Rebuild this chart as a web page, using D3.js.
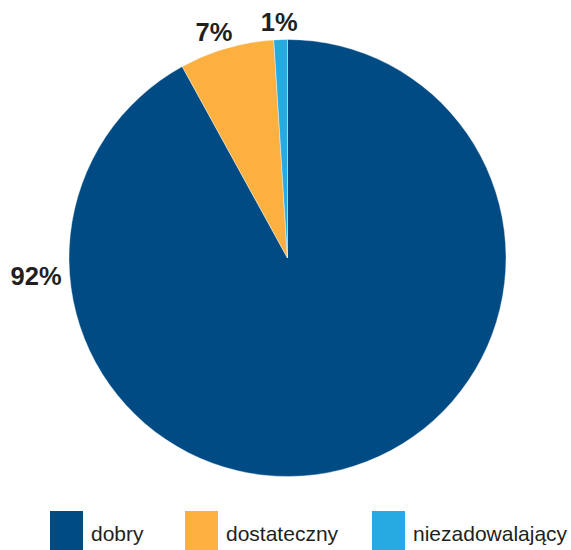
<!DOCTYPE html>
<html>
<head>
<meta charset="utf-8">
<script src="https://cdn.jsdelivr.net/npm/d3@7"></script>
<style>
  html, body { margin: 0; padding: 0; background: #fff; }
  svg { display: block; }
</style>
</head>
<body>
<svg id="chart" width="571" height="550"></svg>
<script>
// Ratings and their shares (percent)
const categories = ["dobry", "dostateczny", "niezadowalający"];
const shares = [92, 7, 1];
const colors = ["#004b84", "#fbb040", "#27a9e1"];

const width = 571, height = 550;
const cx = 287.5, cy = 258, radius = 218.5;
const textColor = "#231f20";
const fontFamily = "'Liberation Sans', Arial, Helvetica, sans-serif";
const labelSize = 25.5;

const svg = d3.select("#chart");

const pie = d3.pie().sort(null).value(d => d)(shares);
const arc = d3.arc().innerRadius(0).outerRadius(radius);

const g = svg.append("g").attr("transform", `translate(${cx},${cy})`);

g.selectAll("path.slice")
  .data(pie)
  .join("path")
  .attr("class", "slice")
  .attr("d", arc)
  .attr("fill", (d, i) => colors[i])
  .attr("stroke", "#fff")
  .attr("stroke-width", 0.4);

// Percentage labels: small slices sit just outside the end of their arc,
// the dominant slice is labelled on the left side of the pie.
const fmt = v => v + "%";
const largest = d3.maxIndex(shares);
const gap = 8;

const labels = g.selectAll("text.pct")
  .data(pie)
  .join("text")
  .attr("class", "pct")
  .attr("font-family", fontFamily)
  .attr("font-weight", "bold")
  .attr("font-size", labelSize)
  .attr("fill", textColor)
  .attr("text-anchor", "middle")
  .attr("dominant-baseline", "central")
  .text(d => fmt(d.data));

labels.attr("transform", function (d, i) {
  if (i === largest) {
    const a = 266 * Math.PI / 180, r = 252;
    return `translate(${Math.sin(a) * r},${-Math.cos(a) * r})`;
  }
  const box = this.getBBox();
  const hw = box.width / 2, hh = labelSize * 0.36;
  const a = (d.startAngle + d.endAngle) / 2;
  const s = Math.sin(a), c = Math.cos(a);
  const x = s * (radius + gap + 2 * hw);
  const y = -c * (radius + gap + hh);
  return `translate(${x},${y})`;
});

// Legend along the bottom edge
const legendPos = [50, 185, 372];
const legend = svg.append("g")
  .selectAll("g")
  .data(categories)
  .join("g")
  .attr("transform", (d, i) => `translate(${legendPos[i]},511)`);

legend.append("rect")
  .attr("width", 33)
  .attr("height", 40)
  .attr("fill", (d, i) => colors[i]);

legend.append("text")
  .attr("x", 41)
  .attr("y", 29.5)
  .attr("font-family", fontFamily)
  .attr("font-size", 21)
  .attr("fill", textColor)
  .text(d => d);
</script>
</body>
</html>
